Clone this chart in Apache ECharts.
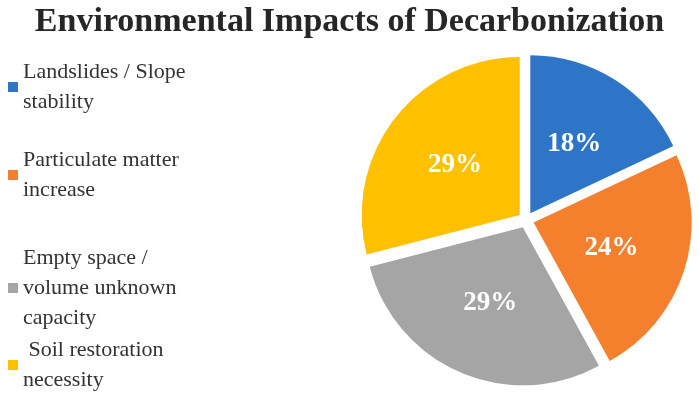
<!DOCTYPE html><html><head><meta charset="utf-8"><script src="https://cdn.jsdelivr.net/npm/echarts@6/dist/echarts.min.js"></script></head><body style="margin:0"><div id="c" style="width:699px;height:412px"></div><script>
const categories=["Landslides / Slope\nstability","Particulate matter\nincrease","Empty space /\nvolume unknown\ncapacity"," Soil restoration\nnecessity"];
const values=[18,24,29,29];
const colors=["#2E75C8","#F47F2D","#A5A5A5","#FFC000"];
const firstLineY=[72,160,258,350];
const c=echarts.init(document.getElementById('c'));
const legends=categories.map((n,i)=>({data:[n],left:8,top:firstLineY[i]-15,orient:'vertical',itemWidth:10,itemHeight:10,itemGap:6,icon:'rect',selectedMode:false,padding:0,
 textStyle:{fontFamily:'Liberation Serif',fontSize:22,color:'#333',lineHeight:30}}));
c.setOption({
 title:{text:'Environmental Impacts of Decarbonization',left:'center',top:0,textStyle:{fontFamily:'Liberation Serif',fontWeight:'bold',fontSize:34,color:'#262626'}},
 legend:legends,
 series:[{type:'pie',center:[526,220],radius:[0,158],startAngle:90,selectedMode:'multiple',selectedOffset:8,animation:false,
  label:{position:'inside',formatter:'{c}%',color:'#fff',fontFamily:'Liberation Serif',fontWeight:'bold',fontSize:27},
  labelLine:{show:false},
  data:categories.map((n,i)=>({name:n,value:values[i],selected:true,itemStyle:{color:colors[i]}}))}]
});
</script></body></html>
